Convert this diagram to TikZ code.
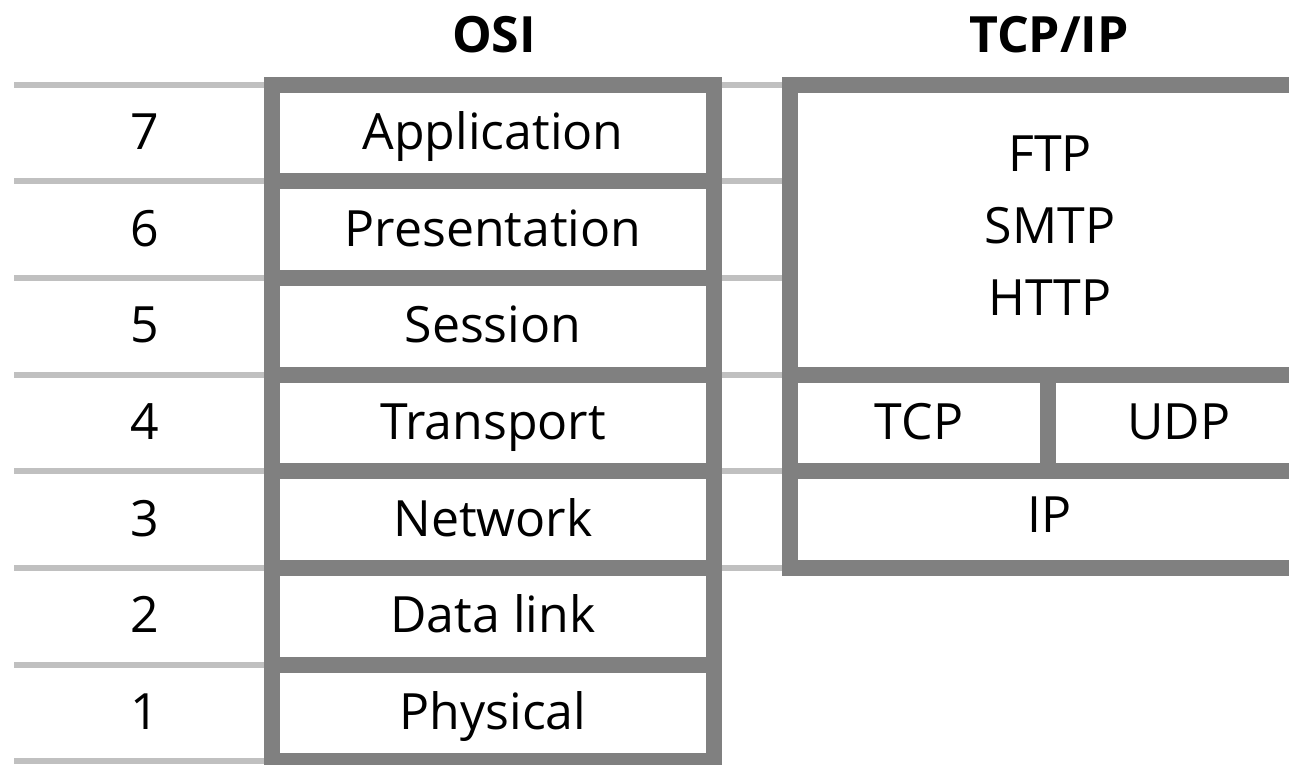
\documentclass[tikz,border=0pt]{standalone}
\usepackage{fontspec}
\setmainfont{Open Sans}
\definecolor{frame}{HTML}{808080}
\definecolor{rule}{HTML}{C0C0C0}
\begin{document}
\begin{tikzpicture}[x=1pt,y=-1pt,
  frameline/.style={draw=frame,line width=16pt},
  ruleline/.style={draw=rule,line width=6pt},
  label/.style={anchor=base,inner sep=0pt,font=\fontsize{50}{60}\selectfont},
  head/.style={anchor=base,inner sep=0pt,font=\fontsize{50}{60}\selectfont\bfseries}]
\useasboundingbox (0,0) rectangle (1289,764);
\clip (0,0) rectangle (1289,764);

% layer boundaries
\foreach \k in {0,...,7}
  \draw[ruleline] (14,{84.7+96.67*\k}) -- (264,{84.7+96.67*\k});
\foreach \k in {0,...,5}
  \draw[ruleline] (722,{84.7+96.67*\k}) -- (782,{84.7+96.67*\k});

% OSI stack
\draw[frameline] (272,84.7) rectangle (714,761.4);
\foreach \k in {1,...,6}
  \draw[frameline] (264,{84.7+96.67*\k}) -- (722,{84.7+96.67*\k});

% TCP/IP stack
\draw[frameline] (790,84.7) rectangle (1310,568);
\draw[frameline] (782,374.7) -- (1318,374.7);
\draw[frameline] (782,470.7) -- (1318,470.7);
\draw[frameline] (1048,374.7) -- (1048,470.7);

% headings
\node[head] (osi) at (494,52.3) {OSI};
\node[head] (tcpip) at (1049,52.3) {TCP/IP};

% layer numbers
\node[label] (n7) at (145,149.3) {7};
\node[label] (n6) at (145,246) {6};
\node[label] (n5) at (145,342.6) {5};
\node[label] (n4) at (145,439.3) {4};
\node[label] (n3) at (145,536) {3};
\node[label] (n2) at (145,632.7) {2};
\node[label] (n1) at (145,729.3) {1};

% OSI layers
\node[label] (app) at (493,149.3) {Application};
\node[label] (pres) at (493,246) {Presentation};
\node[label] (sess) at (493,342.6) {Session};
\node[label] (trans) at (493,439.3) {Transport};
\node[label] (net) at (493,536) {Network};
\node[label] (dl) at (493,632.7) {Data link};
\node[label] (phy) at (493,729.3) {Physical};

% TCP/IP protocols
\node[label] (ftp) at (1050,171) {FTP};
\node[label] (smtp) at (1050,243.3) {SMTP};
\node[label] (http) at (1050,315) {HTTP};
\node[label] (tcp) at (919,439.3) {TCP};
\node[label] (udp) at (1179,439.3) {UDP};
\node[label] (ip) at (1050,532.7) {IP};
\end{tikzpicture}
\end{document}
